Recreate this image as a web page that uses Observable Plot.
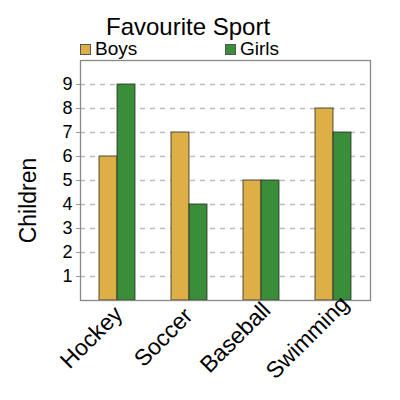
<!DOCTYPE html>
<html>
<head>
<meta charset="utf-8">
<script src="https://cdn.jsdelivr.net/npm/d3@7"></script>
<script src="https://cdn.jsdelivr.net/npm/@observablehq/plot@0.6"></script>
<style>
  body { margin: 0; background: #fff; font-family: "Liberation Sans", Arial, sans-serif; }
  #header { position: relative; width: 400px; height: 57px; }
  #header span { position: absolute; line-height: 1; white-space: nowrap; color: #000; }
  .sw { position: absolute; width: 11px; height: 11px; box-sizing: border-box; border: 1px solid #555; }
</style>
</head>
<body>
<div id="header"></div>
<div id="chart"></div>
<script>
const title = "Favourite Sport";
const sports = ["Hockey", "Soccer", "Baseball", "Swimming"];
const groups = ["Boys", "Girls"];
const boys = [6, 7, 5, 8];
const girls = [9, 4, 5, 7];
const yTicks = [1, 2, 3, 4, 5, 6, 7, 8, 9];
const yLabel = "Children";
const colors = ["#DDAF46", "#3A8E3A"];

// header: title + legend
const header = document.getElementById("header");
const t = document.createElement("span");
t.textContent = title;
t.style.cssText = "left:106px;top:15px;font-size:24px;";
header.appendChild(t);
const legendX = [80, 225];
groups.forEach((g, i) => {
  const sw = document.createElement("div");
  sw.className = "sw";
  sw.style.left = legendX[i] + "px";
  sw.style.top = "44px";
  sw.style.background = colors[i];
  header.appendChild(sw);
  const s = document.createElement("span");
  s.textContent = g;
  s.style.cssText = `left:${legendX[i] + 15}px;top:39px;font-size:19px;`;
  header.appendChild(s);
});

const boysData = sports.map((s, i) => ({sport: s, value: boys[i]}));
const girlsData = sports.map((s, i) => ({sport: s, value: girls[i]}));

const chart = Plot.plot({
  width: 400,
  height: 343,
  marginTop: 3,
  marginLeft: 80,
  marginRight: 30,
  marginBottom: 100,
  style: {fontFamily: "'Liberation Sans', Arial, sans-serif", color: "#000", background: "#fff"},
  x: {domain: sports, paddingInner: 0.752, paddingOuter: 0.376},
  y: {domain: [0, 10]},
  marks: [
    Plot.gridY(yTicks, {stroke: "#bdbdbd", strokeOpacity: 1, strokeWidth: 1.6, strokeDasharray: "5,5"}),
    Plot.barY(boysData, {x: "sport", y: "value", dx: -9, fill: colors[0], stroke: "#222", strokeOpacity: 0.75, strokeWidth: 1}),
    Plot.barY(girlsData, {x: "sport", y: "value", dx: 9, fill: colors[1], stroke: "#222", strokeOpacity: 0.75, strokeWidth: 1}),
    Plot.frame({stroke: "#888", strokeWidth: 1.3}),
    Plot.axisY(yTicks, {label: null, fontSize: 18, tickSize: 4, tickPadding: 4, stroke: "#999"}),
    Plot.axisX({label: null, tickSize: 0, tickPadding: 0, tickRotate: -45, fontSize: 23,
                textAnchor: "middle", lineAnchor: "middle", dx: -26, dy: 37}),
    Plot.text([yLabel], {frameAnchor: "left", textAnchor: "middle", lineAnchor: "middle",
                         dx: -52, dy: 20, rotate: -90, fontSize: 23, fill: "#000"})
  ]
});
document.getElementById("chart").appendChild(chart);
</script>
</body>
</html>
